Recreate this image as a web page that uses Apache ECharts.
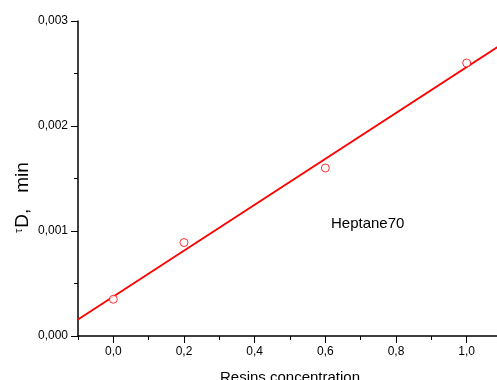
<!DOCTYPE html>
<html>
<head>
<meta charset="utf-8">
<script src="https://cdn.jsdelivr.net/npm/echarts@6/dist/echarts.min.js"></script>
<style>
html,body{margin:0;padding:0;background:#fff;}
#c{width:497px;height:380px;}
</style>
</head>
<body>
<div id="c"></div>
<script>
// Data
var concentration = [0.0, 0.2, 0.6, 1.0];
var tauD = [0.00035, 0.00089, 0.0016, 0.0026];
// fitted straight line endpoints
var fitX = [-0.1, 1.1];
var fitY = [0.000157, 0.00278];
var xMajorTicks = [0.0, 0.2, 0.4, 0.6, 0.8, 1.0];
var xMinorTicks = [-0.1, 0.1, 0.3, 0.5, 0.7, 0.9, 1.1];
var yMajorTicks = [0, 0.001, 0.002, 0.003];
var yMinorTicks = [0.0005, 0.0015, 0.0025];
var seriesLabel = 'Heptane70';

var F = 'Arial, "Liberation Sans", sans-serif';
var chart = echarts.init(document.getElementById('c'), null, {renderer: 'canvas'});

var pts = concentration.map(function (x, i) { return [x, tauD[i]]; });
var fit = fitX.map(function (x, i) { return [x, fitY[i]]; });

function fmtX(v) { return v.toFixed(1).replace('.', ','); }
function fmtY(v) { return v.toFixed(3).replace('.', ','); }

chart.setOption({
  animation: false,
  grid: {left: 78, top: 21, right: -5, bottom: 44, containLabel: false, outerBoundsMode: 'none'},
  xAxis: [{
    type: 'value', min: -0.1, max: 1.1, interval: 0.1,
    position: 'bottom', offset: 0,
    name: 'Resins concentration', nameLocation: 'middle', nameGap: 34,
    nameTextStyle: {fontFamily: F, fontSize: 15, color: '#000'},
    axisLine: {show: true, onZero: false, lineStyle: {color: '#000', width: 1.5}},
    axisTick: {show: true, customValues: xMajorTicks, length: 7, inside: false, lineStyle: {color: '#000', width: 1}},
    axisLabel: {customValues: xMajorTicks, formatter: fmtX, fontFamily: F, fontSize: 12, color: '#000', margin: 10},
    splitLine: {show: false}
  }, {
    type: 'value', min: -0.1, max: 1.1, interval: 0.1,
    position: 'bottom', offset: 0,
    axisLine: {show: false, onZero: false},
    axisTick: {show: true, customValues: xMinorTicks, length: 4, lineStyle: {color: '#000', width: 1}},
    axisLabel: {show: false},
    splitLine: {show: false}
  }],
  yAxis: [{
    type: 'value', min: 0, max: 0.003, interval: 0.001,
    position: 'left', offset: 0,
    axisLine: {show: true, onZero: false, lineStyle: {color: '#000', width: 1.5}},
    axisTick: {show: true, customValues: yMajorTicks, length: 7, lineStyle: {color: '#000', width: 1}},
    axisLabel: {customValues: yMajorTicks, formatter: fmtY, fontFamily: F, fontSize: 12, color: '#000', margin: 10},
    splitLine: {show: false}
  }, {
    type: 'value', min: 0, max: 0.003, interval: 0.001,
    position: 'left', offset: 0,
    axisLine: {show: false, onZero: false},
    axisTick: {show: true, customValues: yMinorTicks, length: 4, lineStyle: {color: '#000', width: 1}},
    axisLabel: {show: false},
    splitLine: {show: false}
  }],
  series: [{
    type: 'line', data: fit, xAxisIndex: 0, yAxisIndex: 0,
    showSymbol: false, symbol: 'none',
    lineStyle: {color: '#ff0000', width: 1.8},
    silent: true, z: 2
  }, {
    type: 'scatter', data: pts, xAxisIndex: 0, yAxisIndex: 0,
    symbol: 'circle', symbolSize: 8,
    itemStyle: {color: '#ffffff', borderColor: '#ff0000', borderWidth: 1},
    z: 3
  }],
  graphic: [{
    type: 'text', left: 331, top: 216,
    style: {text: seriesLabel, fontFamily: F, fontSize: 15, fill: '#000'}
  }, {
    type: 'text', x: 13, y: 233, rotation: Math.PI / 2,
    style: {
      text: '{t|τ}{a|D,   min}',
      fill: '#000',
      rich: {
        t: {fontFamily: F, fontSize: 11, verticalAlign: 'top', fill: '#000', padding: [0, 1, 9, 0]},
        a: {fontFamily: F, fontSize: 19, fill: '#000'}
      }
    }
  }]
});
</script>
</body>
</html>
